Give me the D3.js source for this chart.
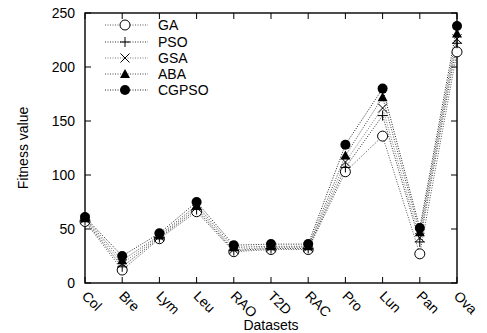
<!DOCTYPE html>
<html>
<head>
<meta charset="utf-8">
<script src="https://cdn.jsdelivr.net/npm/d3@7/dist/d3.min.js"></script>
<style>
body { margin: 0; background: #fff; }
text { font-family: "Liberation Sans", Arial, sans-serif; fill: #000; }
</style>
</head>
<body>
<svg id="chart" width="487" height="333"></svg>
<script>
var datasets = ["Col", "Bre", "Lym", "Leu", "RAO", "T2D", "RAC", "Pro", "Lun", "Pan", "Ova"];
var series_names = ["GA", "PSO", "GSA", "ABA", "CGPSO"];
var ga    = [57, 12, 41, 66, 29, 31, 31, 103, 136, 27, 214];
var pso   = [58, 15, 42, 68, 30, 32, 32, 107, 155, 38, 222];
var gsa   = [59, 18, 43, 70, 31, 33, 33, 112, 162, 42, 226];
var aba   = [60, 21, 44, 72, 33, 34, 34, 118, 172, 47, 231];
var cgpso = [61, 25, 46, 75, 35, 36, 36, 128, 180, 51, 238];
var y_ticks = [0, 50, 100, 150, 200, 250];

var all_series = [ga, pso, gsa, aba, cgpso];
var markers = ["circle", "plus", "cross", "triangle", "dot"];
var line_colors = ["#555", "#333", "#777", "#444", "#222"];

var margin = {left: 85, right: 30, top: 13, bottom: 50};
var width = 487 - margin.left - margin.right;
var height = 333 - margin.top - margin.bottom;

var svg = d3.select("#chart");
var g = svg.append("g").attr("transform", "translate(" + margin.left + "," + margin.top + ")");

var x = d3.scalePoint().domain(datasets).range([0, width]);
var y = d3.scaleLinear().domain([0, 250]).range([height, 0]);

// frame
g.append("rect")
    .attr("width", width).attr("height", height)
    .attr("fill", "none").attr("stroke", "#000").attr("stroke-width", 1.4);

// ticks, inward on all sides
y_ticks.forEach(function(t) {
    g.append("line").attr("x1", 0).attr("x2", 6).attr("y1", y(t)).attr("y2", y(t)).attr("stroke", "#000");
    g.append("line").attr("x1", width).attr("x2", width - 6).attr("y1", y(t)).attr("y2", y(t)).attr("stroke", "#000");
    g.append("text").attr("x", -10).attr("y", y(t)).attr("dy", "0.35em")
        .attr("text-anchor", "end").style("font-size", "14px").text(t);
});
datasets.forEach(function(d) {
    g.append("line").attr("x1", x(d)).attr("x2", x(d)).attr("y1", height).attr("y2", height - 6).attr("stroke", "#000");
    g.append("line").attr("x1", x(d)).attr("x2", x(d)).attr("y1", 0).attr("y2", 6).attr("stroke", "#000");
    g.append("text")
        .attr("transform", "translate(" + (x(d) + 3) + "," + (height + 7) + ") rotate(45)")
        .attr("dy", "0.7em")
        .attr("text-anchor", "start").style("font-size", "14px").text(d);
});

g.append("text").attr("x", width / 2).attr("y", height + 47)
    .attr("text-anchor", "middle").style("font-size", "14px").text("Datasets");
g.append("text").attr("transform", "translate(" + (-57) + "," + (height / 2) + ") rotate(-90)")
    .attr("text-anchor", "middle").style("font-size", "14px").text("Fitness value");

function drawMarker(sel, type, cx, cy) {
    if (type == "circle") {
        sel.append("circle").attr("cx", cx).attr("cy", cy).attr("r", 5)
            .attr("fill", "#fff").attr("stroke", "#000").attr("stroke-width", 1);
    } else if (type == "dot") {
        sel.append("circle").attr("cx", cx).attr("cy", cy).attr("r", 5).attr("fill", "#000");
    } else if (type == "plus") {
        sel.append("path").attr("d", "M" + (cx - 5) + "," + cy + "H" + (cx + 5) + "M" + cx + "," + (cy - 5) + "V" + (cy + 5))
            .attr("stroke", "#000").attr("stroke-width", 1);
    } else if (type == "cross") {
        sel.append("path").attr("d", "M" + (cx - 4.5) + "," + (cy - 4.5) + "L" + (cx + 4.5) + "," + (cy + 4.5) +
            "M" + (cx - 4.5) + "," + (cy + 4.5) + "L" + (cx + 4.5) + "," + (cy - 4.5))
            .attr("stroke", "#000").attr("stroke-width", 1);
    } else if (type == "triangle") {
        sel.append("path").attr("d", "M" + cx + "," + (cy - 5) + "L" + (cx + 5) + "," + (cy + 4) + "L" + (cx - 5) + "," + (cy + 4) + "Z")
            .attr("fill", "#000");
    }
}

var line = d3.line().x(function(d, i) { return x(datasets[i]); }).y(function(d) { return y(d); });

all_series.forEach(function(s, k) {
    g.append("path").datum(s).attr("d", line)
        .attr("fill", "none").attr("stroke", line_colors[k]).attr("stroke-width", 1)
        .attr("stroke-dasharray", "1,1.5");
});
all_series.forEach(function(s, k) {
    s.forEach(function(v, i) {
        drawMarker(g, markers[k], x(datasets[i]), y(v));
    });
});

// legend
var legend_y = [25, 42, 58, 74, 90];
series_names.forEach(function(name, k) {
    var ly = legend_y[k] - margin.top;
    g.append("line").attr("x1", 105 - margin.left).attr("x2", 148 - margin.left).attr("y1", ly).attr("y2", ly)
        .attr("stroke", line_colors[k]).attr("stroke-dasharray", "1,1.5");
    drawMarker(g, markers[k], 125 - margin.left, ly);
    g.append("text").attr("x", 158 - margin.left).attr("y", ly).attr("dy", "0.35em")
        .style("font-size", "14px").text(name);
});
</script>
</body>
</html>
